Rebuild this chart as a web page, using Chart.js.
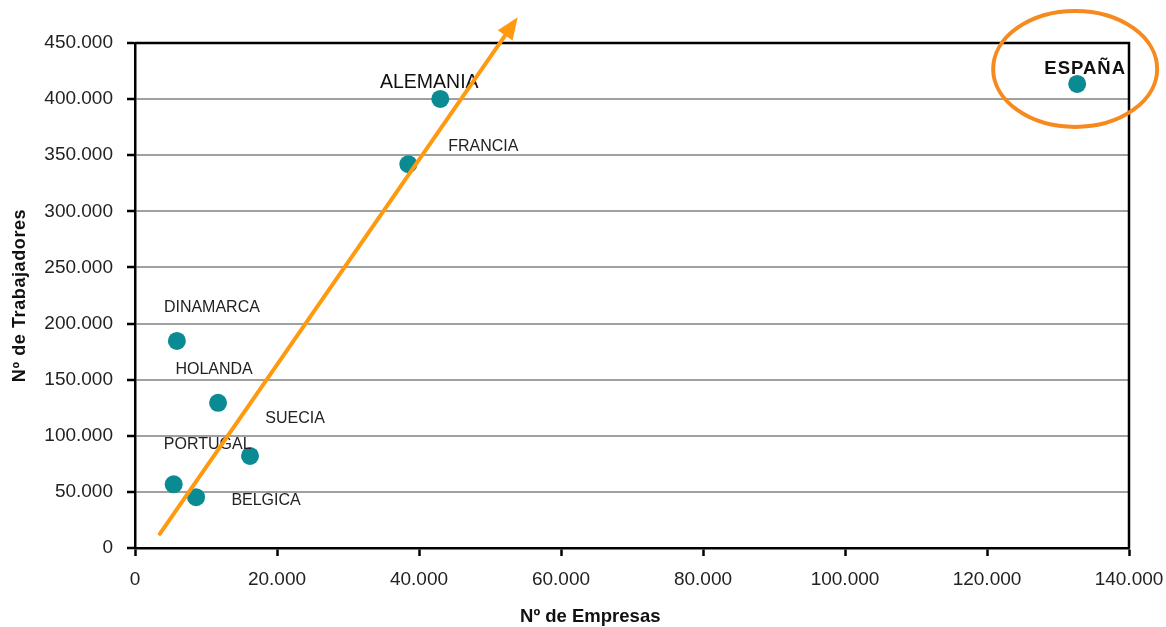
<!DOCTYPE html>
<html>
<head>
<meta charset="utf-8">
<script src="https://cdn.jsdelivr.net/npm/chart.js@4"></script>
<style>
  html, body { margin: 0; padding: 0; background: #ffffff; }
  #wrap { width: 1166px; height: 627px; position: relative; }
</style>
</head>
<body>
<div id="wrap"><canvas id="c"></canvas></div>
<script>
// Empresas vs. trabajadores por país
const countries    = ['ESPAÑA', 'ALEMANIA', 'FRANCIA', 'DINAMARCA', 'HOLANDA', 'SUECIA', 'PORTUGAL', 'BELGICA'];
const empresas     = [132700, 43000, 38500, 5900, 11700, 16200, 5450, 8600];
const trabajadores = [413500, 400200, 342000, 184500, 129400, 82000, 56700, 45300];

// Flecha de tendencia (inicio y punta, en unidades de los ejes)
const trendStart = [3500, 12500];
const trendEnd   = [53900, 473000];

// Marcas de los ejes
const xTicks = [0, 20000, 40000, 60000, 80000, 100000, 120000, 140000];
const yTicks = [0, 50000, 100000, 150000, 200000, 250000, 300000, 350000, 400000, 450000];

// Títulos de los ejes
const xTitle = 'Nº de Empresas';
const yTitle = 'Nº de Trabajadores';

// Desplazamiento de cada etiqueta respecto a su punto (px)
const labelOffsets = {
  'ESPAÑA':    [8, -15],
  'ALEMANIA':  [-11, -16],
  'FRANCIA':   [75, -18],
  'DINAMARCA': [35, -33],
  'HOLANDA':   [-4, -33],
  'SUECIA':    [45, -37],
  'PORTUGAL':  [34, -40],
  'BELGICA':   [70, 3]
};

const TEAL = '#0a8b93';
const ORANGE = '#ff9a10';
const ORANGE_RING = '#f78a1e';
const SANS = '"Liberation Sans", Arial, sans-serif';

function fmt(v) {
  return String(v).replace(/\B(?=(\d{3})+(?!\d))/g, '.');
}

const points = empresas.map((x, i) => ({ x: x, y: trabajadores[i] }));

// Marco del área de trazado y títulos de los ejes
const framePlugin = {
  id: 'frame',
  afterDraw(chart) {
    const { ctx, chartArea: a } = chart;
    ctx.save();
    ctx.strokeStyle = '#000';
    ctx.lineWidth = 2.5;
    ctx.beginPath();
    ctx.moveTo(a.left, a.top);
    ctx.lineTo(a.right, a.top);
    ctx.lineTo(a.right, a.bottom);
    ctx.stroke();

    ctx.fillStyle = '#111';
    ctx.textAlign = 'center';
    ctx.textBaseline = 'middle';
    ctx.font = 'bold 18.5px ' + SANS;
    ctx.fillText(xTitle, a.left + (a.right - a.left) * 0.458, 617);

    ctx.translate(20, (a.top + a.bottom) / 2);
    ctx.rotate(-Math.PI / 2);
    ctx.font = 'bold 18px ' + SANS;
    ctx.letterSpacing = '0.6px';
    ctx.fillText(yTitle, 0, 0);
    ctx.restore();
  }
};

// Nombres de los países junto a sus puntos
const labelPlugin = {
  id: 'countryLabels',
  afterDatasetsDraw(chart) {
    const { ctx } = chart;
    const meta = chart.getDatasetMeta(0);
    ctx.save();
    ctx.textAlign = 'center';
    ctx.textBaseline = 'middle';
    meta.data.forEach((el, i) => {
      const name = countries[i];
      const off = labelOffsets[name];
      ctx.letterSpacing = '0px';
      if (name === 'ESPAÑA') {
        ctx.font = 'bold 18.5px ' + SANS;
        ctx.letterSpacing = '1px';
        ctx.fillStyle = '#111';
      } else if (name === 'ALEMANIA') {
        ctx.font = '19.5px ' + SANS;
        ctx.fillStyle = '#111';
      } else {
        ctx.font = '16px ' + SANS;
        ctx.fillStyle = '#222';
      }
      ctx.fillText(name, el.x + off[0], el.y + off[1]);
    });
    ctx.restore();
  }
};

// Flecha de tendencia y elipse que resalta España
const annotatePlugin = {
  id: 'annotate',
  afterDraw(chart) {
    const { ctx, scales } = chart;
    const x0 = scales.x.getPixelForValue(trendStart[0]);
    const y0 = scales.y.getPixelForValue(trendStart[1]);
    const x1 = scales.x.getPixelForValue(trendEnd[0]);
    const y1 = scales.y.getPixelForValue(trendEnd[1]);
    const ang = Math.atan2(y1 - y0, x1 - x0);
    const headLen = 22, headHalf = 9;
    const bx = x1 - headLen * Math.cos(ang);
    const by = y1 - headLen * Math.sin(ang);
    ctx.save();
    ctx.strokeStyle = ORANGE;
    ctx.fillStyle = ORANGE;
    ctx.lineWidth = 4;
    ctx.lineCap = 'round';
    ctx.beginPath();
    ctx.moveTo(x0, y0);
    ctx.lineTo(bx, by);
    ctx.stroke();
    ctx.beginPath();
    ctx.moveTo(x1, y1);
    ctx.lineTo(bx + headHalf * Math.sin(ang), by - headHalf * Math.cos(ang));
    ctx.lineTo(bx - headHalf * Math.sin(ang), by + headHalf * Math.cos(ang));
    ctx.closePath();
    ctx.fill();

    const esp = chart.getDatasetMeta(0).data[0];
    ctx.strokeStyle = ORANGE_RING;
    ctx.lineWidth = 4;
    ctx.beginPath();
    ctx.ellipse(esp.x - 2, esp.y - 15, 82, 58, 0, 0, Math.PI * 2);
    ctx.stroke();
    ctx.restore();
  }
};

new Chart(document.getElementById('c'), {
  type: 'scatter',
  data: {
    datasets: [{
      data: points,
      backgroundColor: TEAL,
      borderColor: TEAL,
      borderWidth: 0,
      pointRadius: 9,
      pointHoverRadius: 9
    }]
  },
  options: {
    responsive: true,
    maintainAspectRatio: false,
    animation: false,
    events: [],
    layout: { padding: { top: 43, right: 37, bottom: 0, left: 0 } },
    plugins: {
      legend: { display: false },
      tooltip: { enabled: false }
    },
    scales: {
      x: {
        type: 'linear',
        min: 0,
        max: 140000,
        afterBuildTicks(scale) { scale.ticks = xTicks.map(v => ({ value: v })); },
        afterFit(scale) {
          scale.height = 79;
          scale.paddingLeft = 0;
          scale.paddingRight = 0;
        },
        grid: {
          drawOnChartArea: false,
          drawTicks: true,
          tickLength: 8,
          tickColor: '#000',
          tickWidth: 2.5
        },
        border: { color: '#000', width: 2.5 },
        ticks: {
          padding: 12,
          color: '#222',
          font: { family: SANS, size: 19 },
          maxRotation: 0,
          callback: v => fmt(v)
        },
        title: { display: false }
      },
      y: {
        type: 'linear',
        min: 0,
        max: 450000,
        afterBuildTicks(scale) { scale.ticks = yTicks.map(v => ({ value: v })); },
        afterFit(scale) {
          scale.width = 135;
          scale.paddingTop = 0;
          scale.paddingBottom = 0;
        },
        grid: {
          color: ctx => (ctx.tick && ctx.tick.value === 450000) ? 'rgba(0,0,0,0)' : '#a0a0a0',
          lineWidth: 2,
          drawTicks: true,
          tickLength: 8,
          tickColor: '#000',
          tickWidth: 2.5
        },
        border: { color: '#000', width: 2.5 },
        ticks: {
          padding: 14,
          color: '#222',
          font: { family: SANS, size: 19 },
          callback: v => fmt(v)
        },
        title: { display: false }
      }
    }
  },
  plugins: [framePlugin, labelPlugin, annotatePlugin]
});
</script>
</body>
</html>
